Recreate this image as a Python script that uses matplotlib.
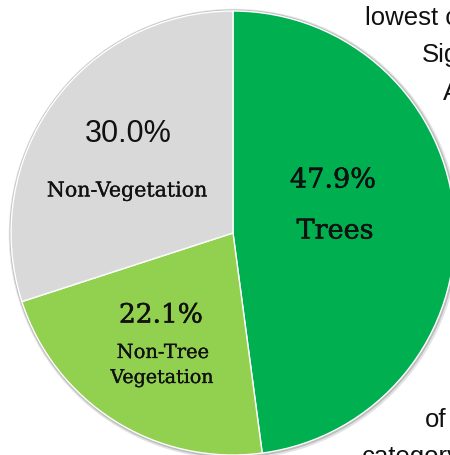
import matplotlib
matplotlib.use("Agg")
import matplotlib.pyplot as plt
import matplotlib.patheffects as pe
from matplotlib.patches import Circle

# Data
categories = ["Trees", "Non-Tree Vegetation", "Non-Vegetation"]
shares = [47.9, 22.1, 30.0]
colors = ["#00B050", "#92D050", "#D9D9D9"]

W, H = 450, 455
fig = plt.figure(figsize=(W / 100, H / 100), dpi=100)
ax = fig.add_axes([0, 0, 1, 1])

def Y(ypx):
    return H - ypx

cx, cy, r = 233, Y(233), 222

# soft rim / shadow
ax.add_patch(Circle((cx + 1, cy - 1), r + 2.5, color="#e3e3e3", zorder=1))
ax.add_patch(Circle((cx + 0.5, cy - 0.5), r + 1.2, color="#bdbdbd", zorder=1))

wedges, _ = ax.pie(shares, colors=colors, startangle=90, counterclock=False,
                   center=(cx, cy), radius=r, frame=True,
                   wedgeprops=dict(edgecolor="white", linewidth=1.0, zorder=2))
ax.set_xlim(0, W)
ax.set_ylim(0, H)
ax.set_aspect("equal")
ax.axis("off")

serif = ["DejaVu Serif"]
sans = ["Liberation Sans", "DejaVu Sans"]
tc = "#111111"

def lab(x, y, s, size, fam=serif, stroke=0.4):
    eff = [pe.withStroke(linewidth=stroke, foreground=tc)] if stroke else None
    ax.text(x, Y(y), s, family=fam, fontsize=size, ha="center", va="center",
            color=tc, zorder=5, path_effects=eff)

# Labels
lab(333, 180, f"{shares[0]:.1f}%", 19.5)
lab(335, 231, "Trees", 19.5)
lab(161, 315, f"{shares[1]:.1f}%", 19)
lab(163, 353, "Non-Tree", 14, stroke=0.2)
lab(162, 378, "Vegetation", 13.7, stroke=0.2)
lab(128, 134, f"{shares[2]:.1f}%", 22, fam=sans, stroke=None)
lab(127, 191, "Non-Vegetation", 14.8, stroke=0.2)

# Background document text fragments
bg = dict(family=sans, fontsize=18.5, color="#111111", ha="left", va="baseline", zorder=0)
ax.text(365, Y(25), "lowest c", **bg)
ax.text(422, Y(62), "Sig", **bg)
ax.text(443, Y(100), "A", **bg)
ax.text(425, Y(427), "of", **bg)
ax.text(362, Y(464), "category", **bg)

fig.savefig("out.png", dpi=100)
